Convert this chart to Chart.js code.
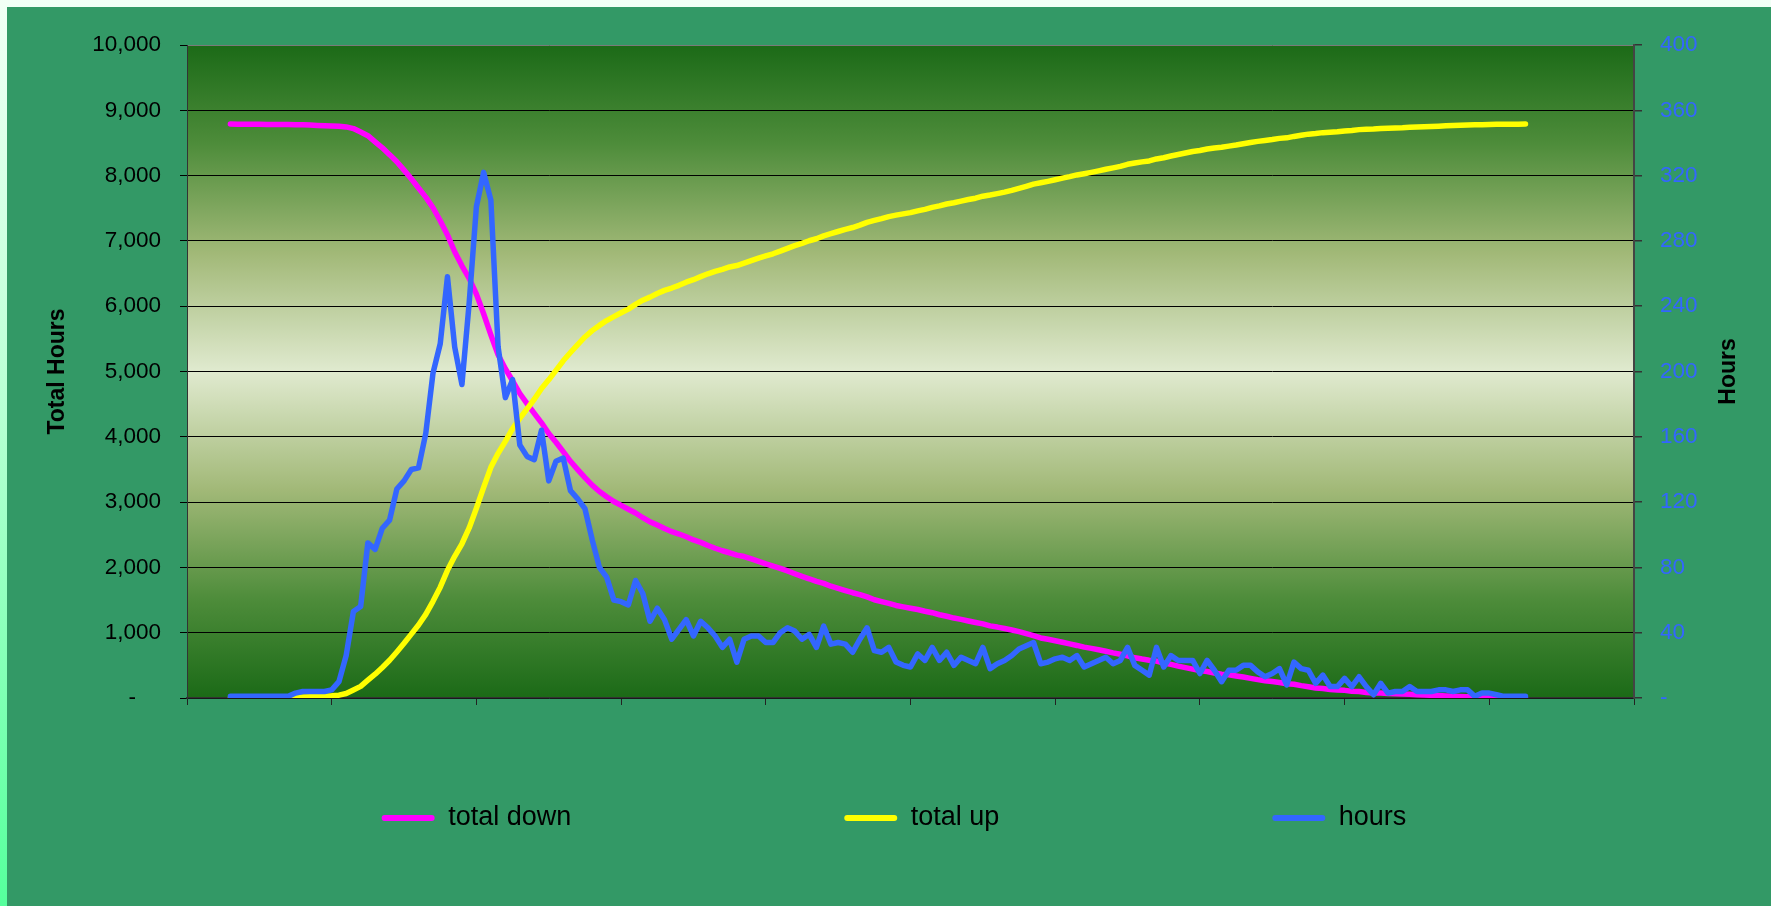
<!DOCTYPE html>
<html>
<head>
<meta charset="utf-8">
<script src="https://cdn.jsdelivr.net/npm/chart.js@4/dist/chart.umd.min.js"></script>
<style>
  html, body { margin: 0; padding: 0; }
  body { width: 1771px; height: 906px; overflow: hidden; background: linear-gradient(to bottom, #f2fff6 0%, #b8ffd4 45%, #55ff9c 100%); position: relative; }
  #wrap { position: absolute; left: 7px; top: 7px; width: 1764px; height: 899px; background: #339966; }
  canvas { display: block; }
</style>
</head>
<body>
<div id="wrap"><canvas id="c" width="1764" height="899"></canvas></div>
<script>
// ---- data ----
const N_CATEGORIES = 201;            // category slots on the x axis (ticks every 20)
const categories = Array.from({length: N_CATEGORIES}, (_, i) => String(i));
const LEAD = [null, null, null, null, null, null];                        // slots 0-5 empty
const TRAIL = [null, null, null, null, null, null, null, null, null, null, null, null, null, null, null]; // 186-200 empty

const hoursValues = [
  1,1,1,1,1,1,1,1,1,3,
  4,4,4,4,5,10,26,53,56,95,
  91,104,109,128,133,140,141,162,199,217,
  258,215,192,242,301,322,305,215,184,195,
  155,148,146,164,133,145,147,127,122,116,
  97,80,74,60,59,57,72,64,47,55,
  48,36,42,48,38,47,43,38,31,36,
  22,36,38,38,34,34,40,43,41,36,
  39,31,44,33,34,33,28,36,43,29,
  28,31,22,20,19,27,23,31,23,28,
  20,25,23,21,31,18,21,23,26,30,
  32,34,21,22,24,25,23,26,19,21,
  23,25,21,23,31,20,17,14,31,19,
  26,23,23,23,15,23,17,10,17,17,
  20,20,16,13,15,18,8,22,18,17,
  9,14,7,7,12,7,13,7,2,9,
  3,4,4,7,4,4,4,5,5,4,
  5,5,1,3,3,2,1,1,1,1
];

const totalUpValues = [
  1,2,3,4,5,6,7,8,9,12,
  16,20,24,28,33,43,69,122,178,273,
  364,468,577,705,838,978,1119,1281,1480,1697,
  1955,2170,2362,2604,2905,3227,3532,3747,3931,4126,
  4281,4429,4575,4739,4872,5017,5164,5291,5413,5529,
  5626,5706,5780,5840,5899,5956,6028,6092,6139,6194,
  6242,6278,6320,6368,6406,6453,6496,6534,6565,6601,
  6623,6659,6697,6735,6769,6803,6843,6886,6927,6963,
  7002,7033,7077,7110,7144,7177,7205,7241,7284,7313,
  7341,7372,7394,7414,7433,7460,7483,7514,7537,7565,
  7585,7610,7633,7654,7685,7703,7724,7747,7773,7803,
  7835,7869,7890,7912,7936,7961,7984,8010,8029,8050,
  8073,8098,8119,8142,8173,8193,8210,8224,8255,8274,
  8300,8323,8346,8369,8384,8407,8424,8434,8451,8468,
  8488,8508,8524,8537,8552,8570,8578,8600,8618,8635,
  8644,8658,8665,8672,8684,8691,8704,8711,8713,8722,
  8725,8729,8733,8740,8744,8748,8752,8757,8762,8766,
  8771,8776,8777,8780,8783,8785,8786,8787,8788,8789
];

const totalDownValues = [
  8789,8788,8787,8786,8785,8784,8783,8782,8781,8780,
  8777,8773,8769,8765,8761,8756,8746,8720,8667,8611,
  8516,8425,8321,8212,8084,7951,7811,7670,7508,7309,
  7092,6834,6619,6427,6185,5884,5562,5257,5042,4858,
  4663,4508,4360,4214,4050,3917,3772,3625,3498,3376,
  3260,3163,3083,3009,2949,2890,2833,2761,2697,2650,
  2595,2547,2511,2469,2421,2383,2336,2293,2255,2224,
  2188,2166,2130,2092,2054,2020,1986,1946,1903,1862,
  1826,1787,1756,1712,1679,1645,1612,1584,1548,1505,
  1476,1448,1417,1395,1375,1356,1329,1306,1275,1252,
  1224,1204,1179,1156,1135,1104,1086,1065,1042,1016,
  986,954,920,899,877,853,828,805,779,760,
  739,716,691,670,647,616,596,579,565,534,
  515,489,466,443,420,405,382,365,355,338,
  321,301,281,265,252,237,219,211,189,171,
  154,145,131,124,117,105,98,85,78,76,
  67,64,60,56,49,45,41,37,32,27,
  23,18,13,12,9,6,4,3,2,1
];

const leftTicks = { min: 0, max: 10000, step: 1000 };
const rightTicks = { min: 0, max: 400, step: 40 };
const seriesNames = ['total down', 'total up', 'hours'];
const leftTitle = 'Total Hours';
const rightTitleText = 'Hours';

// ---- chart ----
const FONT = "'Liberation Sans', Arial, Helvetica, sans-serif";
Chart.defaults.font.family = FONT;
Chart.defaults.color = '#000';

const totalDown = LEAD.concat(totalDownValues, TRAIL);
const totalUp = LEAD.concat(totalUpValues, TRAIL);
const hours = LEAD.concat(hoursValues, TRAIL);

const plotBg = {
  id: 'plotBg',
  beforeDraw(chart) {
    const {ctx, chartArea: a} = chart;
    const g = ctx.createLinearGradient(0, a.top, 0, a.bottom);
    g.addColorStop(0.00, '#1b6a17');
    g.addColorStop(0.15, '#4d8c3a');
    g.addColorStop(0.32, '#a2b978');
    g.addColorStop(0.50, '#e0eacf');
    g.addColorStop(0.68, '#a2b978');
    g.addColorStop(0.85, '#4d8c3a');
    g.addColorStop(1.00, '#1b6a17');
    ctx.save();
    ctx.fillStyle = g;
    ctx.fillRect(a.left, a.top, a.right - a.left, a.bottom - a.top);
    ctx.restore();
  }
};

const rightTitle = {
  id: 'rightTitle',
  afterDraw(chart) {
    const {ctx, chartArea: a} = chart;
    ctx.save();
    ctx.font = "bold 23px " + FONT;
    ctx.fillStyle = '#000';
    ctx.textAlign = 'center';
    ctx.textBaseline = 'middle';
    ctx.translate(1722, (a.top + a.bottom) / 2);
    ctx.rotate(-Math.PI / 2);
    ctx.fillText(rightTitleText, 0, 0);
    ctx.restore();
  }
};

const LEG_PAD = 273;
const legendPlace = {
  id: 'legendPlace',
  afterLayout(chart) {
    const l = chart.legend;
    if (!l) return;
    l.top = 811 - 13.5 - LEG_PAD;
    l.bottom = chart.height;
    l.left += 5;
    l.right += 5;
  }
};

new Chart(document.getElementById('c'), {
  type: 'line',
  data: {
    labels: categories,
    datasets: [
      { label: seriesNames[0], data: totalDown, yAxisID: 'y', borderColor: '#ff00ff', backgroundColor: '#ff00ff', borderWidth: 5.5, order: 3 },
      { label: seriesNames[1], data: totalUp, yAxisID: 'y', borderColor: '#ffff00', backgroundColor: '#ffff00', borderWidth: 5.5, order: 2 },
      { label: seriesNames[2], data: hours, yAxisID: 'y1', borderColor: '#3366ff', backgroundColor: '#3366ff', borderWidth: 5.5, order: 1 }
    ]
  },
  options: {
    responsive: false,
    animation: false,
    events: [],
    layout: { padding: { top: 38, left: 0, right: 0, bottom: 0 } },
    elements: {
      point: { radius: 0 },
      line: { tension: 0, borderJoinStyle: 'round', borderCapStyle: 'round', fill: false }
    },
    plugins: {
      tooltip: { enabled: false },
      legend: {
        position: 'bottom',
        maxHeight: 110,
        labels: {
          boxWidth: 53,
          boxHeight: 6,
          padding: LEG_PAD,
          color: '#000',
          font: { size: 27, family: FONT },
          sort: (a, b) => a.datasetIndex - b.datasetIndex,
          generateLabels(chart) {
            const items = Chart.defaults.plugins.legend.labels.generateLabels(chart);
            items.forEach(it => { it.lineWidth = 0; it.fillStyle = it.strokeStyle; it.borderRadius = 3; });
            return items;
          }
        }
      }
    },
    scales: {
      x: {
        type: 'category',
        offset: false,
        ticks: { display: false, autoSkip: false },
        grid: {
          display: true,
          drawOnChartArea: false,
          drawTicks: true,
          tickLength: 7,
          tickWidth: 1,
          tickColor: (c) => (c.index % 20 === 0 ? '#222' : 'rgba(0,0,0,0)')
        },
        border: { display: true, color: '#333', width: 1.5 },
        afterFit(s) { s.height = 98; }
      },
      y: {
        type: 'linear',
        position: 'left',
        min: leftTicks.min,
        max: leftTicks.max,
        ticks: {
          stepSize: leftTicks.step,
          padding: 19,
          color: '#000',
          font: { size: 22.5, family: FONT },
          callback: (v) => (v === 0 ? '-\u2007\u2007' : v.toLocaleString('en-US'))
        },
        grid: {
          color: (c) => (c.tick && c.tick.value === leftTicks.max ? '#7a7a7a' : '#000'),
          lineWidth: 1,
          drawTicks: true,
          tickLength: 7,
          tickColor: '#000'
        },
        border: { display: true, color: '#333', width: 1 },
        title: {
          display: true,
          text: leftTitle,
          color: '#000',
          font: { size: 23, weight: 'bold', family: FONT },
          padding: { top: 37, bottom: 0 }
        },
        afterFit(s) { s.width = 180; }
      },
      y1: {
        type: 'linear',
        position: 'right',
        min: rightTicks.min,
        max: rightTicks.max,
        ticks: {
          stepSize: rightTicks.step,
          padding: 18,
          color: '#3366ff',
          font: { size: 22.5, family: FONT },
          callback: (v) => (v === 0 ? '-' : String(v))
        },
        grid: { drawOnChartArea: false, drawTicks: true, tickLength: 8, tickColor: '#333', lineWidth: 1.5 },
        border: { display: true, color: '#444', width: 2 },
        afterFit(s) { s.width = 137; }
      }
    }
  },
  plugins: [plotBg, rightTitle, legendPlace]
});
</script>
</body>
</html>
